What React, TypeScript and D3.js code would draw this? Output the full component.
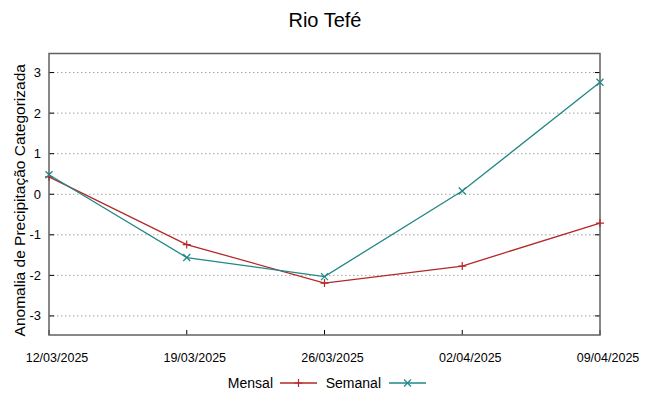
import React, { useEffect, useRef } from "react";
import * as d3 from "d3";

const dates = ["12/03/2025", "19/03/2025", "26/03/2025", "02/04/2025", "09/04/2025"];
const mensal = [0.43, -1.24, -2.19, -1.77, -0.71];
const semanal = [0.48, -1.56, -2.03, 0.08, 2.76];
const yTicks = [-3, -2, -1, 0, 1, 2, 3];

const RED = "#b42828";
const TEAL = "#218787";

const App: React.FC = () => {
  const svgRef = useRef<SVGSVGElement | null>(null);

  useEffect(() => {
    const svg = d3.select(svgRef.current);
    svg.selectAll("*").remove();

    const left = 49;
    const right = 600;
    const top = 53.5;
    const bottom = 335;

    const x = d3.scalePoint<string>().domain(dates).range([left, right]);
    const y = d3.scaleLinear().domain([-3.47, 3.47]).range([bottom, top]);

    svg.append("rect").attr("width", 649).attr("height", 396).attr("fill", "#fff");

    // title
    svg
      .append("text")
      .attr("x", 325)
      .attr("y", 27)
      .attr("text-anchor", "middle")
      .style("font-family", "Liberation Sans, Arial, sans-serif")
      .style("font-size", "20px")
      .text("Rio Tefé");

    // grid
    svg
      .selectAll(".grid")
      .data(yTicks)
      .enter()
      .append("line")
      .attr("x1", left)
      .attr("x2", right)
      .attr("y1", (d) => y(d))
      .attr("y2", (d) => y(d))
      .attr("stroke", "#a0a0a0")
      .attr("stroke-width", 1)
      .attr("stroke-dasharray", "1.5,2.5");

    // ticks (inward, both sides)
    const tickG = svg.append("g").attr("stroke", "#000").attr("stroke-width", 1);
    yTicks.forEach((t) => {
      tickG.append("line").attr("x1", left).attr("x2", left + 5).attr("y1", y(t)).attr("y2", y(t));
      tickG.append("line").attr("x1", right - 5).attr("x2", right).attr("y1", y(t)).attr("y2", y(t));
    });
    dates.forEach((d) => {
      tickG
        .append("line")
        .attr("x1", x(d)!)
        .attr("x2", x(d)!)
        .attr("y1", bottom)
        .attr("y2", bottom - 5);
    });

    // border
    svg
      .append("rect")
      .attr("x", left)
      .attr("y", top)
      .attr("width", right - left)
      .attr("height", bottom - top)
      .attr("fill", "none")
      .attr("stroke", "#606060")
      .attr("stroke-width", 1.5);

    // y labels
    svg
      .selectAll(".ylab")
      .data(yTicks)
      .enter()
      .append("text")
      .attr("x", 41)
      .attr("y", (d) => y(d))
      .attr("dy", "0.35em")
      .attr("text-anchor", "end")
      .style("font-family", "Liberation Sans, Arial, sans-serif")
      .style("font-size", "13px")
      .text((d) => String(d));

    // x labels (gnuplot puts them a little right of the tick)
    svg
      .selectAll(".xlab")
      .data(dates)
      .enter()
      .append("text")
      .attr("x", (d) => x(d)! + 8)
      .attr("y", 361.5)
      .attr("text-anchor", "middle")
      .style("font-family", "Liberation Sans, Arial, sans-serif")
      .style("font-size", "12.5px")
      .text((d) => d);

    // y axis title
    svg
      .append("text")
      .attr("transform", `translate(24.5, ${(top + bottom) / 2 + 6}) rotate(-90)`)
      .attr("text-anchor", "middle")
      .style("font-family", "Liberation Sans, Arial, sans-serif")
      .style("font-size", "15.5px")
      .text("Anomalia de Precipitação Categorizada");

    const line = d3
      .line<number>()
      .x((_, i) => x(dates[i])!)
      .y((d) => y(d));

    const plus = (g: any, cx: number, cy: number, color: string) => {
      g.append("path")
        .attr("d", `M${cx - 4},${cy}H${cx + 4}M${cx},${cy - 4}V${cy + 4}`)
        .attr("stroke", color)
        .attr("stroke-width", 1.2);
    };
    const cross = (g: any, cx: number, cy: number, color: string) => {
      g.append("path")
        .attr("d", `M${cx - 3.5},${cy - 3.5}L${cx + 3.5},${cy + 3.5}M${cx - 3.5},${cy + 3.5}L${cx + 3.5},${cy - 3.5}`)
        .attr("stroke", color)
        .attr("stroke-width", 1.2);
    };

    const series = [
      { name: "Mensal", values: mensal, color: RED, marker: plus },
      { name: "Semanal", values: semanal, color: TEAL, marker: cross },
    ];

    series.forEach((s) => {
      svg
        .append("path")
        .attr("d", line(s.values)!)
        .attr("fill", "none")
        .attr("stroke", s.color)
        .attr("stroke-width", 1.3);
      const g = svg.append("g");
      s.values.forEach((v, i) => s.marker(g, x(dates[i])!, y(v), s.color));
    });

    // legend
    const legendY = 383;
    const legend = [
      { textEnd: 273, x1: 280, x2: 317, ...series[0] },
      { textEnd: 381, x1: 389, x2: 426, ...series[1] },
    ];
    legend.forEach((l) => {
      svg
        .append("text")
        .attr("x", l.textEnd)
        .attr("y", legendY)
        .attr("dy", "0.35em")
        .attr("text-anchor", "end")
        .style("font-family", "Liberation Sans, Arial, sans-serif")
        .style("font-size", "14px")
        .text(l.name);
      svg
        .append("line")
        .attr("x1", l.x1)
        .attr("x2", l.x2)
        .attr("y1", legendY)
        .attr("y2", legendY)
        .attr("stroke", l.color)
        .attr("stroke-width", 1.3);
      l.marker(svg, (l.x1 + l.x2) / 2, legendY, l.color);
    });
  }, []);

  return (
    <svg
      ref={svgRef}
      width={649}
      height={396}
      style={{ position: "absolute", left: 0, top: 0 }}
    ></svg>
  );
};

export default App;
